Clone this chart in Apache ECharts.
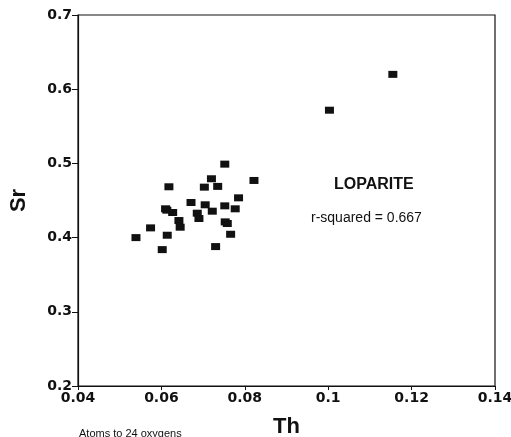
<!DOCTYPE html>
<html><head><meta charset="utf-8">
<script src="https://cdn.jsdelivr.net/npm/echarts@6/dist/echarts.min.js"></script>
<style>html,body{margin:0;padding:0;background:#fff}#c{width:511px;height:437px}</style>
</head><body><div id="c"></div>
<script>
const thValues = [0.1155,0.1003,0.0752,0.0822,0.0618,0.0703,0.0720,0.0735,0.0671,0.0705,0.0752,0.0785,0.0777,0.0610,0.0627,0.0722,0.0686,0.0690,0.0642,0.0645,0.0753,0.0758,0.0574,0.0539,0.0614,0.0766,0.0602,0.0730,0.0613];
const srValues = [0.620,0.5717,0.499,0.477,0.4685,0.468,0.4793,0.469,0.4473,0.4442,0.4428,0.4536,0.4388,0.4388,0.4338,0.4356,0.4329,0.4257,0.423,0.414,0.4212,0.419,0.4131,0.400,0.4032,0.4045,0.3838,0.3879,0.437];
const xTicks = [0.04,0.06,0.08,0.1,0.12,0.14];
const yTicks = [0.2,0.3,0.4,0.5,0.6,0.7];
const pts = thValues.map((v,i)=>[v,srValues[i]]);
const font = '"DejaVu Sans", sans-serif';
const font2 = '"Liberation Sans", Arial, sans-serif';
const chart = echarts.init(document.getElementById('c'));
chart.setOption({
  animation:false,
  grid:{left:78,right:16,top:15,bottom:51,show:true,borderColor:'#111',borderWidth:1.2,outerBoundsMode:'none',containLabel:false},
  xAxis:{type:'value',min:0.04,max:0.14,interval:0.02,
    axisLine:{show:true,lineStyle:{color:'#111',width:1.2}},
    axisTick:{show:true,length:4,inside:false,lineStyle:{color:'#111'}},
    splitLine:{show:false},
    axisLabel:{color:'#111',fontFamily:font,fontWeight:'bold',fontSize:14,margin:5,
      formatter:v=>{const t=xTicks.find(x=>Math.abs(x-v)<1e-9);return t===undefined?'':String(t);}},
    name:'Th',nameLocation:'middle',nameGap:30,
    nameTextStyle:{color:'#111',fontFamily:font2,fontWeight:'bold',fontSize:22}},
  yAxis:{type:'value',min:0.2,max:0.7,interval:0.1,
    axisLine:{show:true,lineStyle:{color:'#111',width:1.2}},
    axisTick:{show:true,length:6,lineStyle:{color:'#111'}},
    splitLine:{show:false},
    axisLabel:{color:'#111',fontFamily:font,fontWeight:'bold',fontSize:14,margin:6,
      formatter:v=>{const t=yTicks.find(x=>Math.abs(x-v)<1e-9);return t===undefined?'':String(t);}},
    name:'Sr',nameLocation:'middle',nameGap:48,nameRotate:90,
    nameTextStyle:{color:'#111',fontFamily:font2,fontWeight:'bold',fontSize:22}},
  graphic:[
    {type:'text',left:334,top:177,style:{text:'LOPARITE',fill:'#111',font:'bold 16px '+font2}},
    {type:'text',left:311,top:211,style:{text:'r-squared = 0.667',fill:'#111',font:'14px '+font2}},
    {type:'text',left:79,top:428,style:{text:'Atoms to 24 oxygens',fill:'#111',font:'11px '+font2}}
  ],
  series:[{type:'scatter',data:pts,symbol:'rect',symbolSize:[9,7],itemStyle:{color:'#111',opacity:1}}]
});
</script></body></html>
